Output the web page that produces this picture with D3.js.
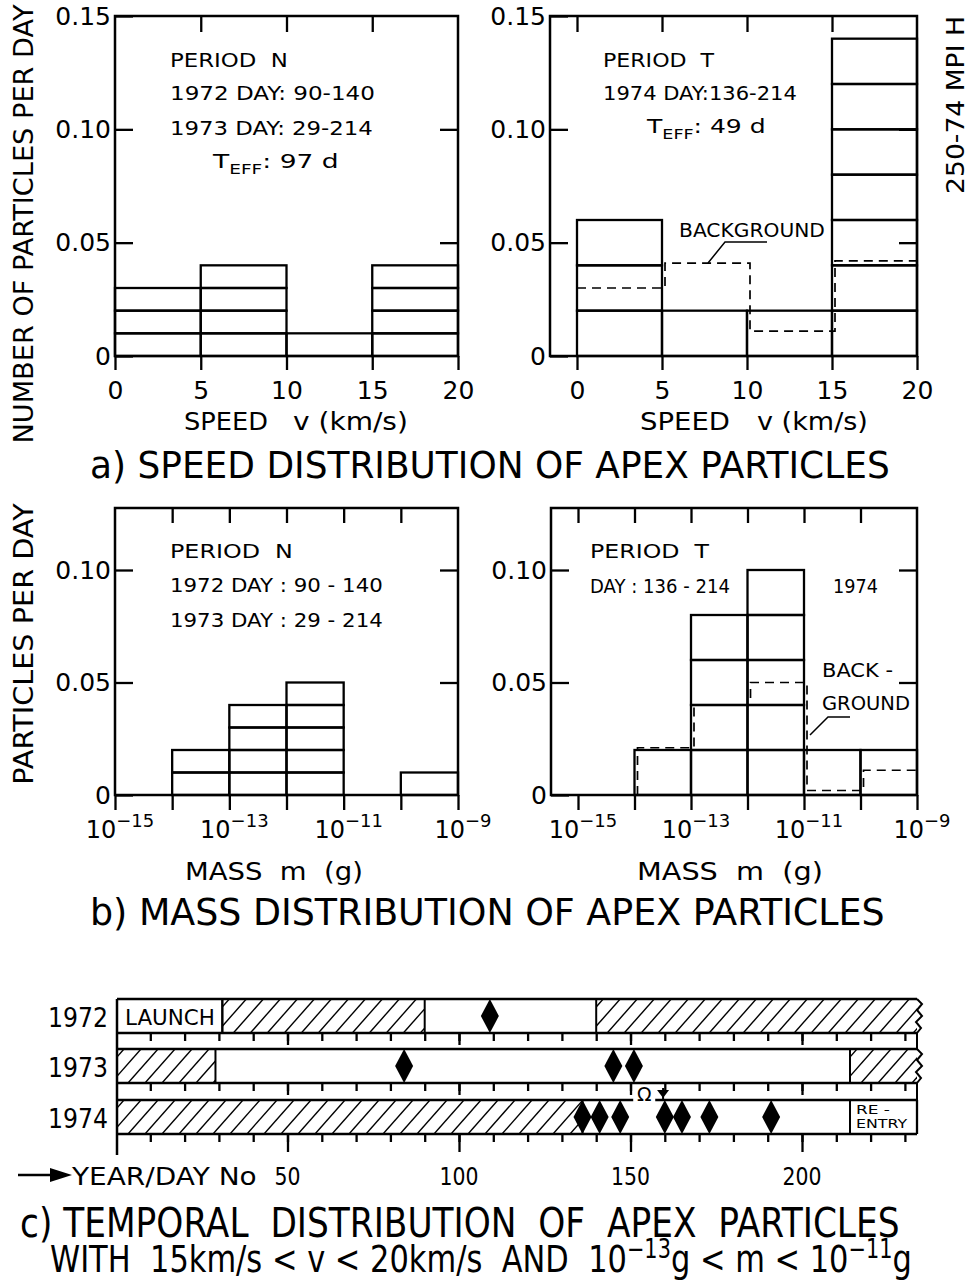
<!DOCTYPE html>
<html><head><meta charset="utf-8">
<script src="https://cdn.jsdelivr.net/npm/d3@7"></script>
<style>
body{margin:0;background:#fff}
svg{display:block;background:#fff}
text{font-family:"DejaVu Sans",sans-serif;fill:#000;white-space:pre}
</style></head><body>
<svg id="c" width="972" height="1282"></svg>
<script>
// ================= DATA =================
// a) speed distribution (particles per day), bins 0-5,5-10,10-15,15-20 km/s
const speedEdges = [0, 5, 10, 15, 20];
const speedN = [0.03, 0.04, 0.01, 0.04];        // period N
const speedT = [0.06, 0.02, 0.02, 0.14];        // period T
const speedTBg = [0.030, 0.041, 0.011, 0.042];  // background (period T)
const unitN = 0.01;   // one particle in period N
const unitT = 0.02;   // one particle in period T
const speedYTicks = [0, 0.05, 0.10, 0.15];
const speedYLabels = ["0", "0.05", "0.10", "0.15"];

// b) mass distribution, decade bins 1e-15 ... 1e-9 g
const massExp = [-15, -14, -13, -12, -11, -10, -9];
const massN = [0, 0.02, 0.04, 0.05, 0, 0.01];
const massT = [0, 0.02, 0.08, 0.10, 0.02, 0.02];
const massTBg = [null, 0.021, 0.040, 0.050, 0.002, 0.011];
const massLabelExp = [-15, -13, -11, -9];
const massYTicks = [0, 0.05, 0.10];
const massYLabels = ["0", "0.05", "0.10"];

// c) temporal distribution (day numbers)
const years = ["1972", "1973", "1974"];
const hatched = [[[31, 90], [140, 240]], [[0, 29], [214, 240]], [[0, 136]]];
const events = [[109], [84, 145, 151], [136, 141, 147, 160, 165, 173, 191]];
const launchDay = 31, reentryDay = 214;
const nodeDay = 154, pinDay = 159.5;
const dayTicks = d3.range(10, 231, 10);
const dayLabels = [50, 100, 150, 200];

// ================= HELPERS =================
const svg = d3.select('#c');
const K = '#000';
function T(parent, build, o) {
  const t = parent.append('text').attr('font-size', o.size).attr('text-anchor', o.anchor || 'start');
  if (typeof build === 'string') t.text(build); else build(t);
  let s = 1;
  if (o.width) { const w = t.node().getBBox().width; if (w > 0) s = o.width / w; }
  t.attr('transform', `translate(${o.x},${o.y}) rotate(${o.rot || 0}) scale(${s},1)`);
  return t;
}
function frame(g, x0, y0, x1, y1) {
  g.append('rect').attr('x', x0).attr('y', y0).attr('width', x1 - x0).attr('height', y1 - y0)
    .attr('fill', 'none').attr('stroke', K).attr('stroke-width', 2.5);
}
function styleAxis(a, size) {
  a.select('.domain').remove();
  a.selectAll('line').attr('stroke', K).attr('stroke-width', 2.3);
  a.selectAll('text').attr('font-size', size || 24).attr('font-family', '"DejaVu Sans",sans-serif').attr('fill', K);
  a.attr('font-family', null).attr('font-size', null);
}
function histo(g, x, y, edges, vals, unit) {
  vals.forEach((v, i) => {
    const n = Math.round(v / unit);
    for (let k = 0; k < n; k++) {
      g.append('rect').attr('x', x(edges[i])).attr('width', x(edges[i + 1]) - x(edges[i]))
        .attr('y', y((k + 1) * unit)).attr('height', y(k * unit) - y((k + 1) * unit))
        .attr('fill', 'none').attr('stroke', K).attr('stroke-width', 2.3);
    }
  });
}
function bgStep(g, x, y, edges, vals, fromZero) {
  const off = 3;
  const pts = [];
  let first = true;
  vals.forEach((v, i) => {
    if (v == null) return;
    const xl = x(edges[i]) + ((first && !fromZero) ? 0 : off);
    const last = i === vals.length - 1;
    const xr = x(edges[i + 1]) + (last ? 0 : off);
    if (first && fromZero) pts.push([xl, y(0)]);
    pts.push([xl, y(v)], [xr, y(v)]);
    first = false;
  });
  g.append('path').attr('d', d3.line()(pts)).attr('fill', 'none').attr('stroke', K)
    .attr('stroke-width', 1.7).attr('stroke-dasharray', '9,6');
}

// ================= PANEL A =================
function panelA(cfg) {
  const g = svg.append('g');
  const x = d3.scaleLinear().domain([0, 20]).range(cfg.xr);
  const y = d3.scaleLinear().domain([0, 0.15]).range([356, 16]);
  const fl = cfg.frameL, fr = x(20), ft = y(0.15), fb = y(0);
  histo(g, x, y, speedEdges, cfg.vals, cfg.unit);
  if (cfg.bg) bgStep(g, x, y, speedEdges, cfg.bg, false);
  frame(g, fl, ft, fr, fb);
  styleAxis(g.append('g').attr('transform', `translate(0,${fb})`)
    .call(d3.axisBottom(x).tickValues(speedEdges).tickSize(14).tickPadding(11).tickFormat(d3.format('d'))), 25);
  styleAxis(g.append('g').attr('transform', `translate(0,${ft})`)
    .call(d3.axisTop(x).tickValues(cfg.topTicks).tickSize(-16).tickFormat('')));
  styleAxis(g.append('g').attr('transform', `translate(${fl},0)`)
    .call(d3.axisLeft(y).tickValues(speedYTicks).tickSize(-18).tickPadding(4)
      .tickFormat((d, i) => speedYLabels[i])), 25);
  styleAxis(g.append('g').attr('transform', `translate(${fr},0)`)
    .call(d3.axisRight(y).tickValues([0.05, 0.10]).tickSize(-18).tickFormat('')));
  return g;
}
const gA1 = panelA({xr: [115, 458], frameL: 115, vals: speedN, unit: unitN, topTicks: [5, 10, 15]});
const gA2 = panelA({xr: [577, 917], frameL: 550, vals: speedT, unit: unitT, bg: speedTBg, topTicks: [0, 5, 10, 15]});

function teff(str) {
  return t => {
    t.append('tspan').text('T');
    t.append('tspan').attr('font-size', 14).attr('dy', 6).text('EFF');
    t.append('tspan').attr('font-size', 20).attr('dy', -6).text(str);
  };
}
T(gA1, 'PERIOD  N', {x: 170, y: 67, size: 20, width: 118});
T(gA1, '1972 DAY: 90-140', {x: 170, y: 100, size: 20, width: 205});
T(gA1, '1973 DAY: 29-214', {x: 170, y: 135, size: 20, width: 203});
T(gA1, teff(': 97 d'), {x: 213, y: 168, size: 20, width: 127});
T(gA2, 'PERIOD  T', {x: 603, y: 67, size: 20, width: 112});
T(gA2, '1974 DAY:136-214', {x: 603, y: 100, size: 20, width: 194});
T(gA2, teff(': 49 d'), {x: 647, y: 133, size: 20, width: 120});
T(gA2, 'BACKGROUND', {x: 679, y: 237, size: 20, width: 146});
gA2.append('path').attr('d', d3.line()([[767, 242], [725, 242], [708, 263]]))
  .attr('fill', 'none').attr('stroke', K).attr('stroke-width', 1.5);
T(gA1, 'SPEED', {x: 184, y: 430, size: 24, width: 84});
T(gA1, 'v (km/s)', {x: 293, y: 430, size: 24, width: 115});
T(gA2, 'SPEED', {x: 640, y: 430, size: 24, width: 90});
T(gA2, 'v (km/s)', {x: 757, y: 430, size: 24, width: 111});
T(svg, 'NUMBER OF PARTICLES PER DAY', {x: 33, y: 224, size: 27, anchor: 'middle', rot: -90, width: 440});
T(svg, '250-74 MPI H', {x: 964, y: 105, size: 25, anchor: 'middle', rot: -90, width: 178});
T(svg, 'a) SPEED DISTRIBUTION OF APEX PARTICLES', {x: 90, y: 478, size: 38, width: 800});

// ================= PANEL B =================
function panelB(cfg) {
  const g = svg.append('g');
  const edges = massExp.map(e => Math.pow(10, e));
  const x = d3.scaleLog().domain([1e-15, 1e-9]).range(cfg.xr);
  const y = d3.scaleLinear().domain([0, 0.10]).range([795, 570]);
  const fl = cfg.frameL, fr = x(1e-9), ft = 508, fb = y(0);
  histo(g, x, y, edges, cfg.vals, cfg.unit);
  if (cfg.bg) bgStep(g, x, y, edges, cfg.bg, true);
  frame(g, fl, ft, fr, fb);
  styleAxis(g.append('g').attr('transform', `translate(0,${fb})`)
    .call(d3.axisBottom(x).tickValues(edges).tickSize(15).tickFormat('')));
  styleAxis(g.append('g').attr('transform', `translate(0,${ft})`)
    .call(d3.axisTop(x).tickValues(cfg.topTicks.map(e => Math.pow(10, e))).tickSize(-15).tickFormat('')));
  styleAxis(g.append('g').attr('transform', `translate(${fl},0)`)
    .call(d3.axisLeft(y).tickValues(massYTicks).tickSize(-18).tickPadding(4)
      .tickFormat((d, i) => massYLabels[i])), 25);
  styleAxis(g.append('g').attr('transform', `translate(${fr},0)`)
    .call(d3.axisRight(y).tickValues([0.05, 0.10]).tickSize(-18).tickFormat('')));
  massLabelExp.forEach(e => {
    T(g, t => {
      t.append('tspan').text('10');
      t.append('tspan').attr('font-size', 18).attr('dy', -11).text('\u2212' + Math.abs(e));
    }, {x: x(Math.pow(10, e)) + 5, y: 838, size: 24, anchor: 'middle'});
  });
  return g;
}
const gB1 = panelB({xr: [115, 458], frameL: 115, vals: massN, unit: unitN, topTicks: [-14, -13, -12, -11, -10]});
const gB2 = panelB({xr: [578, 917], frameL: 551, vals: massT, unit: unitT, bg: massTBg, topTicks: [-15, -14, -13, -12, -11, -10]});
T(gB1, 'PERIOD  N', {x: 170, y: 558, size: 20, width: 123});
T(gB1, '1972 DAY : 90 - 140', {x: 170, y: 592, size: 20, width: 213});
T(gB1, '1973 DAY : 29 - 214', {x: 170, y: 627, size: 20, width: 213});
T(gB2, 'PERIOD  T', {x: 590, y: 558, size: 20, width: 120});
T(gB2, 'DAY : 136 - 214', {x: 590, y: 593, size: 20, width: 140});
T(gB2, '1974', {x: 833, y: 593, size: 20, width: 45});
T(gB2, 'BACK -', {x: 822, y: 677, size: 20, width: 71});
T(gB2, 'GROUND', {x: 822, y: 710, size: 20, width: 88});
gB2.append('path').attr('d', d3.line()([[850, 717], [828, 717], [810, 735]]))
  .attr('fill', 'none').attr('stroke', K).attr('stroke-width', 1.5);
T(gB1, 'MASS  m  (g)', {x: 185, y: 880, size: 24, width: 178});
T(gB2, 'MASS  m  (g)', {x: 637, y: 880, size: 24, width: 186});
T(svg, 'PARTICLES PER DAY', {x: 33, y: 644, size: 27, anchor: 'middle', rot: -90, width: 282});
T(svg, 'b) MASS DISTRIBUTION OF APEX PARTICLES', {x: 90, y: 925, size: 38, width: 795});

// ================= PANEL C =================
const gC = svg.append('g');
const xd = d3.scaleLinear().domain([0, 200]).range([116, 802]);
const cL = 117, cR = 917;
const rowTop = [999, 1049, 1100], rowH = 34;
const defs = svg.append('defs');
rowTop.forEach((ty, i) => {
  const by = ty + rowH;
  // hatching
  hatched[i].forEach((r, j) => {
    const a = Math.max(cL, xd(r[0])), b = Math.min(cR, xd(r[1]));
    const id = `clip${i}_${j}`;
    defs.append('clipPath').attr('id', id).append('rect').attr('x', a).attr('y', ty).attr('width', b - a).attr('height', rowH);
    const hg = gC.append('g').attr('clip-path', `url(#${id})`);
    d3.range(a - 40, b + 5, 17).forEach(xb => {
      hg.append('line').attr('x1', xb).attr('y1', by).attr('x2', xb + 30).attr('y2', ty)
        .attr('stroke', K).attr('stroke-width', 1.4);
    });
    [r[0], r[1]].forEach(d => {
      const px = xd(d);
      if (px > cL + 2 && px < cR - 2)
        gC.append('line').attr('x1', px).attr('x2', px).attr('y1', ty).attr('y2', by).attr('stroke', K).attr('stroke-width', 2);
    });
  });
  // events (diamonds)
  events[i].forEach(d => {
    const px = xd(d), my = ty + rowH / 2;
    gC.append('path').attr('d', d3.line()([[px, ty], [px + 9, my], [px, by], [px - 9, my]]) + 'Z').attr('fill', K);
  });
  // row outline
  gC.append('line').attr('x1', cL).attr('x2', cR).attr('y1', ty).attr('y2', ty).attr('stroke', K).attr('stroke-width', 2.3);
  gC.append('line').attr('x1', cL).attr('x2', cR).attr('y1', by).attr('y2', by).attr('stroke', K).attr('stroke-width', 2.3);
  if (i < 2) {
    const zz = [[0, 0], [5, 5], [0, 11], [5, 17], [-1, 23], [4, 29], [0, rowH]].map(p => [cR + p[0], ty + p[1]]);
    gC.append('path').attr('d', d3.line()(zz)).attr('fill', 'none').attr('stroke', K).attr('stroke-width', 2);
    gC.append('line').attr('x1', cR).attr('x2', cR).attr('y1', by).attr('y2', rowTop[i + 1]).attr('stroke', K).attr('stroke-width', 2);
  } else {
    gC.append('line').attr('x1', cR).attr('x2', cR).attr('y1', ty).attr('y2', by).attr('stroke', K).attr('stroke-width', 2.3);
  }
  const isLast = i === 2;
  styleAxis(gC.append('g').attr('transform', `translate(0,${by})`)
    .call(d3.axisBottom(xd).tickValues(dayTicks).tickSize(8).tickFormat('')));
  styleAxis(gC.append('g').attr('transform', `translate(0,${by})`)
    .call(d3.axisBottom(xd).tickValues(dayLabels).tickSize(isLast ? 18 : 12).tickFormat('')));
  T(gC, years[i], {x: 108, y: ty + 28, size: 26, anchor: 'end', width: 60});
});
gC.append('line').attr('x1', cL).attr('x2', cL).attr('y1', rowTop[0]).attr('y2', 1155).attr('stroke', K).attr('stroke-width', 2.5);
// launch & re-entry boxes
gC.append('line').attr('x1', xd(launchDay)).attr('x2', xd(launchDay)).attr('y1', rowTop[0]).attr('y2', rowTop[0] + rowH).attr('stroke', K).attr('stroke-width', 2);
T(gC, 'LAUNCH', {x: 125, y: rowTop[0] + 26, size: 22, width: 90});
gC.append('line').attr('x1', xd(reentryDay)).attr('x2', xd(reentryDay)).attr('y1', rowTop[2]).attr('y2', rowTop[2] + rowH).attr('stroke', K).attr('stroke-width', 2);
T(gC, 'RE -', {x: xd(reentryDay) + 6, y: rowTop[2] + 14, size: 12, width: 34});
T(gC, 'ENTRY', {x: xd(reentryDay) + 6, y: rowTop[2] + 28, size: 12, width: 52});
// node symbol and marker
gC.append('rect').attr('x', xd(nodeDay) - 11).attr('y', rowTop[2] - 4).attr('width', 22).attr('height', 8).attr('fill', '#fff');
T(gC, '\u03A9', {x: xd(nodeDay), y: rowTop[2] + 1, size: 19, anchor: 'middle'});
gC.append('path').attr('d', d3.line()([[xd(pinDay) - 6, rowTop[2] - 10], [xd(pinDay) + 6, rowTop[2] - 10], [xd(pinDay), rowTop[2] - 2]]) + 'Z').attr('fill', K);
gC.append('line').attr('x1', xd(pinDay)).attr('x2', xd(pinDay)).attr('y1', rowTop[2] - 12).attr('y2', rowTop[2]).attr('stroke', K).attr('stroke-width', 2);
// axis labels
gC.append('line').attr('x1', 18).attr('x2', 55).attr('y1', 1175).attr('y2', 1175).attr('stroke', K).attr('stroke-width', 2.5);
gC.append('path').attr('d', 'M50,1168L72,1175L50,1182Z').attr('fill', K);
T(gC, 'YEAR/DAY No', {x: 72, y: 1185, size: 24, width: 186});
dayLabels.forEach(d => T(gC, String(d), {x: xd(d), y: 1185, size: 25, anchor: 'middle', width: String(d).length * 13}));
T(gC, 'c) TEMPORAL  DISTRIBUTION  OF  APEX  PARTICLES', {x: 20, y: 1237, size: 40, width: 880});
T(gC, t => {
  t.append('tspan').text('WITH  15km/s < v < 20km/s  AND  10');
  t.append('tspan').attr('font-size', 26).attr('dy', -14).text('\u221213');
  t.append('tspan').attr('dy', 14).text('g < m < 10');
  t.append('tspan').attr('font-size', 26).attr('dy', -14).text('\u221211');
  t.append('tspan').attr('dy', 14).text('g');
}, {x: 50, y: 1272, size: 38, width: 862});
</script>
</body></html>
